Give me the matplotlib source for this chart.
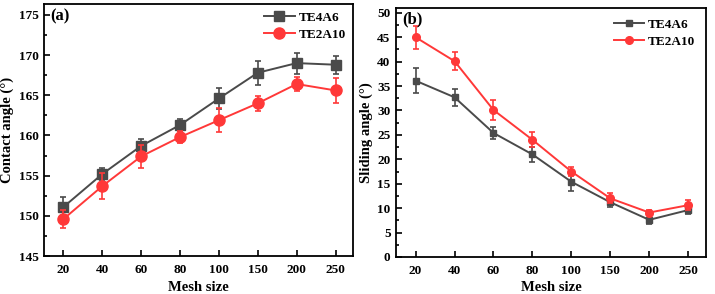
import matplotlib
matplotlib.use("Agg")
import matplotlib.pyplot as plt
from matplotlib.ticker import MultipleLocator

plt.rcParams['font.family'] = ['Liberation Serif', 'DejaVu Serif']
plt.rcParams['font.weight'] = 'bold'

mesh = ['20', '40', '60', '80', '100', '150', '200', '250']

ca_te4a6 = [151.1, 155.2, 158.7, 161.3, 164.6, 167.8, 169.0, 168.8]
ca_te4a6_err = [1.2, 0.7, 0.8, 0.8, 1.3, 1.5, 1.3, 1.1]
ca_te2a10 = [149.6, 153.7, 157.4, 159.8, 161.9, 164.0, 166.4, 165.6]
ca_te2a10_err = [1.1, 1.6, 1.4, 0.7, 1.5, 0.9, 0.9, 1.5]

sa_te4a6 = [36.1, 32.7, 25.4, 21.0, 15.4, 11.2, 7.6, 9.6]
sa_te4a6_err = [2.6, 1.8, 1.2, 1.6, 1.8, 0.9, 0.9, 0.9]
sa_te2a10 = [45.0, 40.1, 30.1, 24.0, 17.5, 12.0, 9.1, 10.6]
sa_te2a10_err = [2.4, 1.8, 2.0, 1.5, 1.0, 1.0, 0.5, 1.0]

grey = '#4a4a4a'
red = '#ff3838'

fig = plt.figure(figsize=(7.15, 2.94), dpi=100)
ax1 = fig.add_axes([0.0615, 0.129, 0.4322, 0.856])
ax2 = fig.add_axes([0.554, 0.126, 0.433, 0.847])

x = list(range(len(mesh)))

def style(ax, ylim, major, minor, label, tag):
    ax.set_xlim(-0.5, 7.45)
    ax.set_ylim(*ylim)
    ax.set_xticks(x)
    ax.set_xticklabels(mesh)
    ax.yaxis.set_major_locator(MultipleLocator(major))
    ax.yaxis.set_minor_locator(MultipleLocator(minor))
    ax.tick_params(which='both', direction='in', top=False, right=False, labelsize=9.5, width=1.2)
    ax.tick_params(which='major', length=4)
    ax.tick_params(which='minor', length=2)
    ax.tick_params(axis='x', pad=6)
    ax.tick_params(axis='y', pad=4)
    for lab in ax.get_xticklabels() + ax.get_yticklabels():
        lab.set_fontweight('bold')
    for s in ax.spines.values():
        s.set_linewidth(1.3)
    ax.set_xlabel('Mesh size', fontsize=10.5, fontweight='bold', labelpad=3)
    ax.set_ylabel(label, fontsize=10.5, fontweight='bold', labelpad=3)
    ax.text(0.02, 0.985, tag, transform=ax.transAxes, fontsize=12, fontweight='bold', va='top', ha='left')

def series(ax, y, err, color, marker, ms, label):
    ax.errorbar(x, y, yerr=err, color=color, fmt='none', capsize=2.5,
                elinewidth=1.2, capthick=1.2)
    ax.plot(x, y, color=color, marker=marker, markersize=ms, linewidth=1.4, label=label)

series(ax1, ca_te4a6, ca_te4a6_err, grey, 's', 7, 'TE4A6')
series(ax1, ca_te2a10, ca_te2a10_err, red, 'o', 8, 'TE2A10')
style(ax1, (145, 176.3), 5, 2.5, 'Contact angle (°)', '(a)')
leg1 = ax1.legend(loc='upper right', frameon=False, fontsize=9.5, handlelength=2.3,
                  borderaxespad=0.15, handletextpad=0.3, labelspacing=0.35)
for t in leg1.get_texts():
    t.set_fontweight('bold')

series(ax2, sa_te4a6, sa_te4a6_err, grey, 's', 5, 'TE4A6')
series(ax2, sa_te2a10, sa_te2a10_err, red, 'o', 5.5, 'TE2A10')
style(ax2, (0, 51), 5, 2.5, 'Sliding angle (°)', '(b)')
leg2 = ax2.legend(loc='upper right', frameon=False, fontsize=9.5, handlelength=2.3,
                  borderaxespad=0.4, handletextpad=0.3, labelspacing=0.35)
for t in leg2.get_texts():
    t.set_fontweight('bold')

fig.savefig('out.png', dpi=100)
